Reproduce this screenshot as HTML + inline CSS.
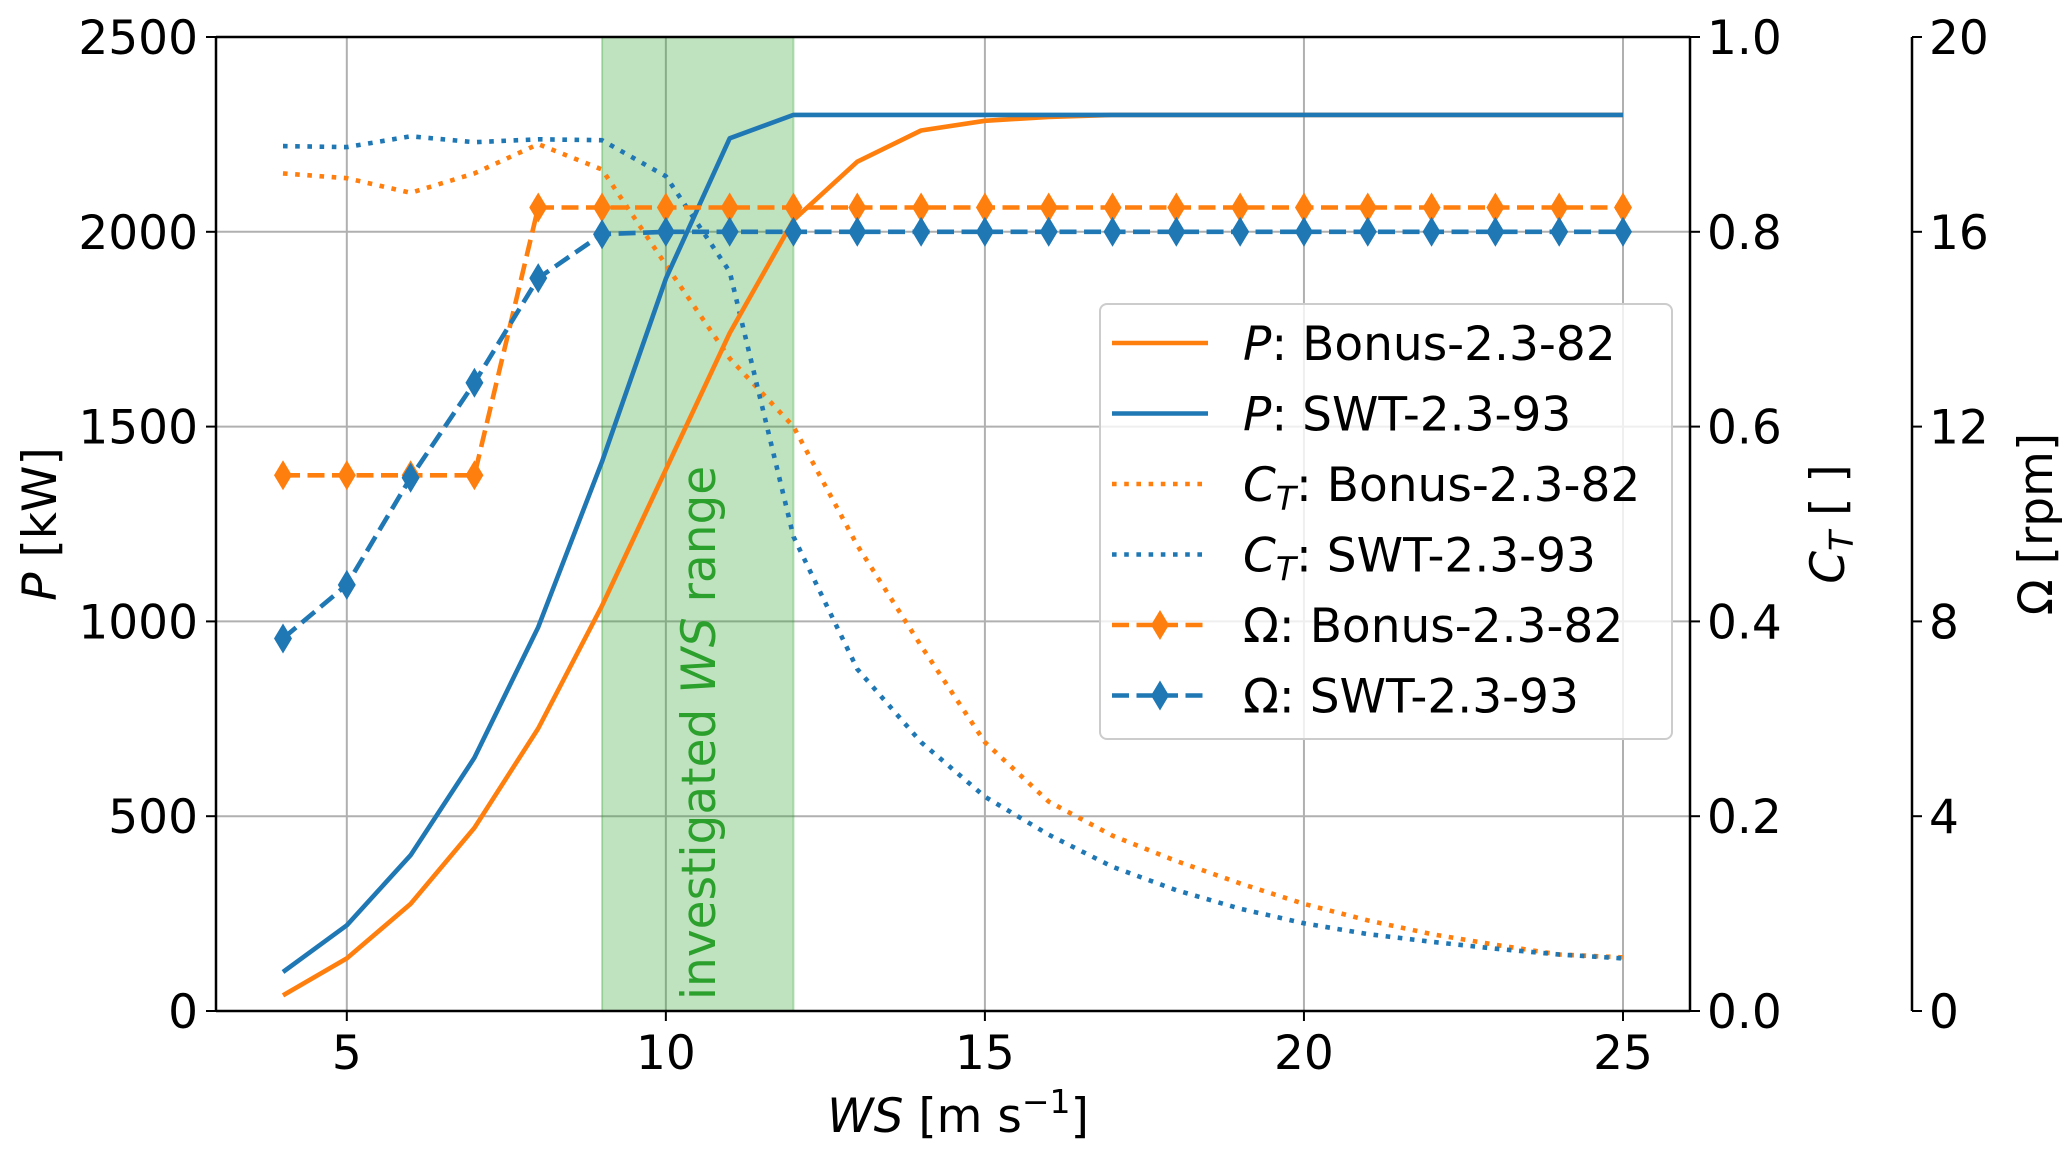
<!DOCTYPE html>
<html><head><meta charset="utf-8"><style>
body{margin:0;background:#fff}
svg{display:block;font-family:"DejaVu Sans","Liberation Sans",sans-serif}
</style></head><body>
<svg id="chart" width="2067" height="1152" viewBox="0 0 2067 1152" xmlns="http://www.w3.org/2000/svg">
<g id="grid"></g>
<g id="band"></g>
<g id="series"></g>
<g id="axes"></g>
<g id="legend"></g>
</svg>
<script>
const ws = [4,5,6,7,8,9,10,11,12,13,14,15,16,17,18,19,20,21,22,23,24,25];
const pBonus = [40,135,275,470,725,1040,1390,1740,2030,2180,2260,2285,2295,2300,2300,2300,2300,2300,2300,2300,2300,2300];
const pSwt = [100,220,400,650,985,1410,1880,2240,2300,2300,2300,2300,2300,2300,2300,2300,2300,2300,2300,2300,2300,2300];
const ctBonus = [0.86,0.855,0.84,0.86,0.89,0.864,0.766,0.67,0.60,0.478,0.375,0.276,0.215,0.18,0.154,0.131,0.11,0.093,0.079,0.068,0.058,0.055];
const ctSwt = [0.888,0.887,0.898,0.892,0.895,0.894,0.857,0.759,0.487,0.351,0.276,0.22,0.181,0.148,0.124,0.105,0.09,0.079,0.071,0.064,0.058,0.054];
const omBonus = [11.0,11.0,11.0,11.0,16.5,16.5,16.5,16.5,16.5,16.5,16.5,16.5,16.5,16.5,16.5,16.5,16.5,16.5,16.5,16.5,16.5,16.5];
const omSwt = [7.65,8.75,10.95,12.9,15.05,15.95,16.0,16.0,16.0,16.0,16.0,16.0,16.0,16.0,16.0,16.0,16.0,16.0,16.0,16.0,16.0,16.0];
const xTicks = [5,10,15,20,25];
const pTicks = [0,500,1000,1500,2000,2500];
const ctTicks = ["0.0","0.2","0.4","0.6","0.8","1.0"];
const omTicks = [0,4,8,12,16,20];
const band = [9,12];

const L=216,R=1690,T=37,B=1011,AX3=1912;
const sx=v=>L+(v-2.95)/(26.05-2.95)*(R-L);
const sp=v=>B-v/2500*(B-T);
const sc=v=>B-v*(B-T);
const so=v=>B-v/20*(B-T);
const NS="http://www.w3.org/2000/svg";
function el(tag,attrs,parent,text){const e=document.createElementNS(NS,tag);for(const k in attrs)e.setAttribute(k,attrs[k]);if(text!=null)e.textContent=text;parent.appendChild(e);return e;}
const G=id=>document.getElementById(id);
const FS=47, SUB=33, LW=4.6;

// grid
xTicks.forEach(t=>{const l=el('line',{x1:sx(t),x2:sx(t),y1:T,y2:B,stroke:'#b0b0b0','stroke-width':2},G('grid'));

});
pTicks.forEach(t=>{const l=el('line',{x1:L,x2:R,y1:sp(t),y2:sp(t),stroke:'#b0b0b0','stroke-width':2},G('grid'));

});

// band
const rb=el('rect',{x:sx(band[0]),y:T,width:sx(band[1])-sx(band[0]),height:B-T,fill:'#2ca02c','fill-opacity':0.3,stroke:'#2ca02c','stroke-opacity':0.3,'stroke-width':2},G('band'));


const bt=el('text',{x:0,y:0,transform:`translate(${(sx(band[0])+sx(band[1]))/2+17},1000) rotate(-90)`,fill:'#2ca02c','font-size':FS},G('band'));


el('tspan',{},bt,'investigated ');el('tspan',{'font-style':'italic'},bt,'WS');el('tspan',{},bt,' range');

// series
const OR='#ff7f0e',BL='#1f77b4';
function line(vals,sy,color,dash,name,marker){
 const g=el('g',{},G('series'));
 
 
 const pts=ws.map((w,i)=>sx(w).toFixed(1)+','+sy(vals[i]).toFixed(1)).join(' ');
 const pl=el('polyline',{points:pts,fill:'none',stroke:color,'stroke-width':LW,'stroke-dasharray':dash,'stroke-linejoin':'round'},g);
 
 
 if(marker){ws.forEach((w,i)=>{const x=sx(w),y=sy(vals[i]);
  const m=el('polygon',{points:`${x},${y-15} ${x+9},${y} ${x},${y+15} ${x-9},${y}`,fill:color},g);
  
  });}
}
line(ctBonus,sc,OR,'4.6 7.6','ct-bonus');
line(ctSwt,sc,BL,'4.6 7.6','ct-swt');
line(pBonus,sp,OR,'none','p-bonus');
line(pSwt,sp,BL,'none','p-swt');
line(omBonus,so,OR,'17 7.5','omega-bonus',true);
line(omSwt,so,BL,'17 7.5','omega-swt',true);

// axes
const A=G('axes');
[[L,T,R,T],[L,B,R,B],[L,T,L,B],[R,T,R,B],[AX3,T,AX3,B]].forEach(c=>{const s=el('line',{x1:c[0],y1:c[1],x2:c[2],y2:c[3],stroke:'#000','stroke-width':2.5},A);

});
xTicks.forEach(t=>{el('line',{x1:sx(t),x2:sx(t),y1:B,y2:B+10,stroke:'#000','stroke-width':2},A);
const tx=el('text',{x:sx(t),y:B+58,'text-anchor':'middle','font-size':FS},A,String(t));

});
pTicks.forEach(t=>{el('line',{x1:L-10,x2:L,y1:sp(t),y2:sp(t),stroke:'#000','stroke-width':2},A);
const tx=el('text',{x:L-18,y:sp(t)+17,'text-anchor':'end','font-size':FS},A,String(t));

});
ctTicks.forEach(t=>{el('line',{x1:R,x2:R+10,y1:sc(+t),y2:sc(+t),stroke:'#000','stroke-width':2},A);
const tx=el('text',{x:R+17,y:sc(+t)+17,'font-size':FS},A,t);

});
omTicks.forEach(t=>{el('line',{x1:AX3,x2:AX3+10,y1:so(t),y2:so(t),stroke:'#000','stroke-width':2},A);
const tx=el('text',{x:AX3+17,y:so(t)+17,'font-size':FS},A,String(t));

});
let t1=el('text',{transform:`translate(56,524) rotate(-90)`,'text-anchor':'middle','font-size':FS},A);


el('tspan',{'font-style':'italic'},t1,'P');el('tspan',{},t1,' [kW]');
let t2=el('text',{transform:`translate(1844,524) rotate(-90)`,'text-anchor':'middle','font-size':FS},A);


el('tspan',{'font-style':'italic'},t2,'C');el('tspan',{'font-style':'italic','font-size':SUB,dy:9},t2,'T');el('tspan',{dy:-9},t2,' [ ]');
let t3=el('text',{transform:`translate(2052,524) rotate(-90)`,'text-anchor':'middle','font-size':FS},A,'Ω [rpm]');


let t4=el('text',{x:958,y:1132,'text-anchor':'middle','font-size':FS},A);


el('tspan',{'font-style':'italic'},t4,'WS');el('tspan',{},t4,' [m s');el('tspan',{'font-size':SUB,dy:-19},t4,'−1');el('tspan',{dy:19},t4,']');

// legend
const Lg=G('legend');
const box=el('rect',{x:1100,y:304,width:572,height:435,rx:7,fill:'#fff','fill-opacity':0.8,stroke:'#cccccc','stroke-width':2},Lg);


const entries=[[OR,'none',false,'P',null,': Bonus-2.3-82'],[BL,'none',false,'P',null,': SWT-2.3-93'],[OR,'4.6 7.6',false,'C','T',': Bonus-2.3-82'],[BL,'4.6 7.6',false,'C','T',': SWT-2.3-93'],[OR,'17 7.5',true,null,null,'Ω: Bonus-2.3-82'],[BL,'17 7.5',true,null,null,'Ω: SWT-2.3-93']];
entries.forEach((e,i)=>{const y=343+i*70.5;
 const g=el('g',{},Lg);
 
 
 el('line',{x1:1112,x2:1208,y1:y,y2:y,stroke:e[0],'stroke-width':LW,'stroke-dasharray':e[1]},g);
 if(e[2])el('polygon',{points:`1160,${y-15} 1169,${y} 1160,${y+15} 1151,${y}`,fill:e[0]},g);
 const t=el('text',{x:1243,y:y+17,'font-size':FS},g);
 if(e[3]){el('tspan',{'font-style':'italic'},t,e[3]);}
 if(e[4]){el('tspan',{'font-style':'italic','font-size':SUB,dy:9},t,e[4]);el('tspan',{dy:-9},t,e[5]);}
 else el('tspan',{},t,e[5]);
});
</script>
</body></html>
